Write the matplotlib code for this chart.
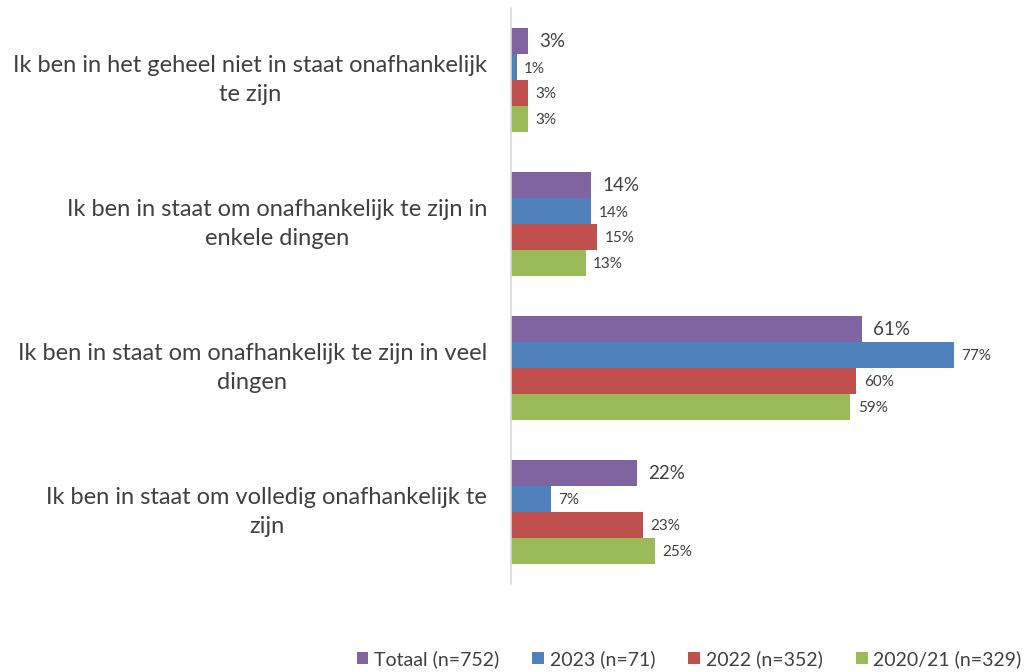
import matplotlib.pyplot as plt
import numpy as np

plt.rcParams['font.family'] = ['Lato', 'DejaVu Sans']

categories = [
    "Ik ben in het geheel niet in staat onafhankelijk\nte zijn",
    "Ik ben in staat om onafhankelijk te zijn in\nenkele dingen",
    "Ik ben in staat om onafhankelijk te zijn in veel\ndingen",
    "Ik ben in staat om volledig onafhankelijk te\nzijn",
]
series_names = ["Totaal (n=752)", "2023 (n=71)", "2022 (n=352)", "2020/21 (n=329)"]
totaal = [3, 14, 61, 22]
y2023 = [1, 14, 77, 7]
y2022 = [3, 15, 60, 23]
y2020 = [3, 13, 59, 25]

colors = ["#8064A2", "#4F81BD", "#C0504D", "#9BBB59"]
text_col = "#404040"

fig = plt.figure(figsize=(10.34, 6.72), dpi=100)
ax = fig.add_axes([0.494, 0.131, 0.49, 0.857])

y = np.arange(len(categories))
h = 0.18
all_series = [totaal, y2023, y2022, y2020]
for j, (vals, name, c) in enumerate(zip(all_series, series_names, colors)):
    pos = y + (j - 1.5) * h
    ax.barh(pos, vals, height=h, color=c, label=name)
    for p, v in zip(pos, vals):
        if j == 0:
            ax.text(v + 1.9, p, f"{v}%", va='center', ha='left',
                    fontsize=13.5, color=text_col)
        else:
            ax.text(v + 1.3, p + 0.01, f"{v}%", va='center', ha='left',
                    fontsize=11, color=text_col)

ax.set_ylim(len(categories) - 0.5, -0.5)
ax.set_xlim(0, 88)
ax.set_xticks([])
ax.set_yticks([])
for s in ['top', 'right', 'bottom']:
    ax.spines[s].set_visible(False)
ax.spines['left'].set_color('#D9D9D9')
ax.spines['left'].set_linewidth(1.2)

for i, lab in enumerate(categories):
    ax.text(-0.047, i, lab, transform=ax.get_yaxis_transform(),
            ha='right', va='center', multialignment='center',
            fontsize=17, color=text_col, linespacing=1.5)

fig.legend(loc='lower right', bbox_to_anchor=(1.005, -0.02), ncol=4,
           frameon=False, fontsize=14, handlelength=0.6, handleheight=0.6,
           handletextpad=0.3, columnspacing=1.7, labelcolor=text_col)

fig.savefig("out.png", dpi=100)
